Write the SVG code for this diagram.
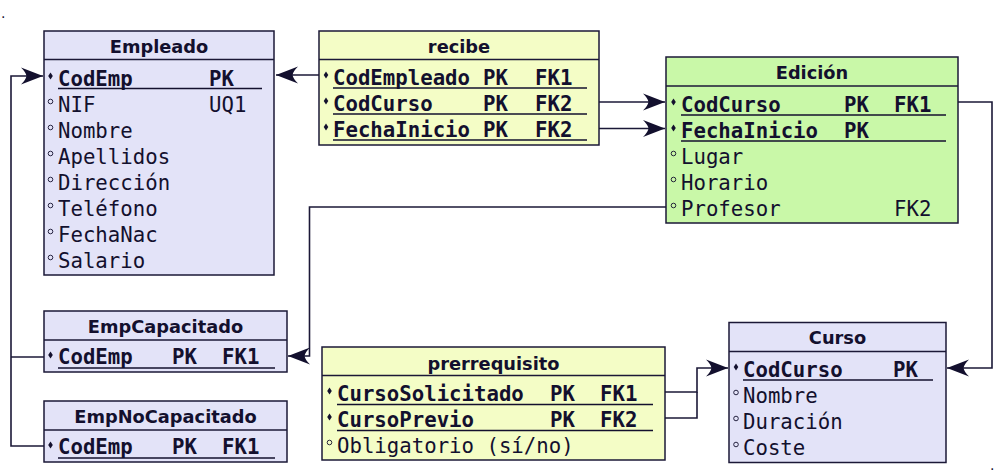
<svg xmlns="http://www.w3.org/2000/svg" width="1000" height="473" viewBox="0 0 1000 473">
<style>
.box{stroke:#1b1837;stroke-width:1.5}
.lav{fill:#e3e3f8}
.yel{fill:#f4fdc6}
.grn{fill:#c9f8a8}
.hdr{stroke:#1b1837;stroke-width:1.5;fill:none}
.title{font-family:"DejaVu Sans",sans-serif;font-weight:bold;font-size:17.8px;fill:#13102e;text-anchor:middle}
.att{font-family:"DejaVu Sans Mono",monospace;font-size:20.7px;fill:#13102e}
.pk{font-weight:bold}
.ul{stroke:#13102e;stroke-width:1.6}
.dia{fill:#13102e}
.circ{fill:none;stroke:#13102e;stroke-width:0.9}
.con{fill:none;stroke:#1b1837;stroke-width:1.6}
.dot{font-family:"DejaVu Sans",sans-serif;font-size:14px;fill:#13102e}
</style>
<defs>
<marker id="arr" markerUnits="userSpaceOnUse" markerWidth="28" markerHeight="22" viewBox="-25 -11 28 22" refX="0" refY="0" orient="auto">
<path d="M0,0 L-22,-8.5 Q-17,-3.5 -16.5,0 Q-17,3.5 -22,8.5 Z" fill="#13102e"/>
</marker>
<path id="d" d="M0,-3.5 L2.3,0 L0,3.5 L-2.3,0 Z"/>
</defs>

<text class="dot" x="1" y="18">.</text>
<text class="dot" x="990" y="470">.</text>

<g id="connectors">
<path class="con" d="M319,75 H276" marker-end="url(#arr)"/>
<path class="con" d="M599,102 H665" marker-end="url(#arr)"/>
<path class="con" d="M599,128.5 H665" marker-end="url(#arr)"/>
<path class="con" d="M666,207 H309.5 V356 H288" marker-end="url(#arr)"/>
<path class="con" d="M958,102 H992 V368 H947" marker-end="url(#arr)"/>
<path class="con" d="M44,446 H11 V76 H43" marker-end="url(#arr)"/>
<path class="con" d="M44,357 H11"/>
<path class="con" d="M665,392 H697 V368 H728" marker-end="url(#arr)"/>
<path class="con" d="M665,418 H697 V392"/>
</g>

<g id="Empleado">
<rect class="box lav" x="44" y="31" width="230" height="244"/>
<line class="hdr" x1="44" y1="59.5" x2="274" y2="59.5"/>
<text class="title" x="159" y="53">Empleado</text>
<use href="#d" class="dia" x="50.5" y="76"/>
<text class="att pk" x="58" y="86">CodEmp</text>
<text class="att pk" x="209" y="86">PK</text>
<line class="ul" x1="58" y1="88.5" x2="262" y2="88.5"/>
<circle class="circ" cx="50.5" cy="101.5" r="2.3"/>
<text class="att" x="58" y="112">NIF</text>
<text class="att" x="209" y="112">UQ1</text>
<circle class="circ" cx="50.5" cy="127.5" r="2.3"/>
<text class="att" x="58" y="138">Nombre</text>
<circle class="circ" cx="50.5" cy="153.5" r="2.3"/>
<text class="att" x="58" y="164">Apellidos</text>
<circle class="circ" cx="50.5" cy="179.5" r="2.3"/>
<text class="att" x="58" y="190">Dirección</text>
<circle class="circ" cx="50.5" cy="205.5" r="2.3"/>
<text class="att" x="58" y="216">Teléfono</text>
<circle class="circ" cx="50.5" cy="231.5" r="2.3"/>
<text class="att" x="58" y="242">FechaNac</text>
<circle class="circ" cx="50.5" cy="257.5" r="2.3"/>
<text class="att" x="58" y="268">Salario</text>
</g>

<g id="recibe">
<rect class="box yel" x="319" y="31" width="280" height="114"/>
<line class="hdr" x1="319" y1="59.5" x2="599" y2="59.5"/>
<text class="title" x="459" y="53">recibe</text>
<use href="#d" class="dia" x="326" y="75"/>
<text class="att pk" x="333" y="85">CodEmpleado</text>
<text class="att pk" x="483" y="85">PK</text>
<text class="att pk" x="535" y="85">FK1</text>
<line class="ul" x1="333" y1="88" x2="587" y2="88"/>
<use href="#d" class="dia" x="326" y="101"/>
<text class="att pk" x="333" y="111">CodCurso</text>
<text class="att pk" x="483" y="111">PK</text>
<text class="att pk" x="535" y="111">FK2</text>
<line class="ul" x1="333" y1="114" x2="587" y2="114"/>
<use href="#d" class="dia" x="326" y="127"/>
<text class="att pk" x="333" y="137">FechaInicio</text>
<text class="att pk" x="483" y="137">PK</text>
<text class="att pk" x="535" y="137">FK2</text>
<line class="ul" x1="333" y1="140" x2="587" y2="140"/>
</g>

<g id="Edicion">
<rect class="box grn" x="666" y="57" width="292" height="166"/>
<line class="hdr" x1="666" y1="86" x2="958" y2="86"/>
<text class="title" x="812" y="79">Edición</text>
<use href="#d" class="dia" x="673.5" y="102"/>
<text class="att pk" x="681" y="112">CodCurso</text>
<text class="att pk" x="844" y="112">PK</text>
<text class="att pk" x="894" y="112">FK1</text>
<line class="ul" x1="681" y1="115" x2="946" y2="115"/>
<use href="#d" class="dia" x="673.5" y="128"/>
<text class="att pk" x="681" y="138">FechaInicio</text>
<text class="att pk" x="844" y="138">PK</text>
<line class="ul" x1="681" y1="141" x2="946" y2="141"/>
<circle class="circ" cx="673.5" cy="153.5" r="2.3"/>
<text class="att" x="681" y="164">Lugar</text>
<circle class="circ" cx="673.5" cy="179.5" r="2.3"/>
<text class="att" x="681" y="190">Horario</text>
<circle class="circ" cx="673.5" cy="205.5" r="2.3"/>
<text class="att" x="681" y="216">Profesor</text>
<text class="att" x="894" y="216">FK2</text>
</g>

<g id="EmpCapacitado">
<rect class="box lav" x="44" y="311" width="243" height="61"/>
<line class="hdr" x1="44" y1="340" x2="287" y2="340"/>
<text class="title" x="165.5" y="333">EmpCapacitado</text>
<use href="#d" class="dia" x="50.5" y="355"/>
<text class="att pk" x="58" y="364">CodEmp</text>
<text class="att pk" x="172" y="364">PK</text>
<text class="att pk" x="222" y="364">FK1</text>
<line class="ul" x1="58" y1="368" x2="275" y2="368"/>
</g>

<g id="EmpNoCapacitado">
<rect class="box lav" x="44" y="401" width="243" height="61"/>
<line class="hdr" x1="44" y1="430" x2="287" y2="430"/>
<text class="title" x="165.5" y="423">EmpNoCapacitado</text>
<use href="#d" class="dia" x="50.5" y="445"/>
<text class="att pk" x="58" y="454">CodEmp</text>
<text class="att pk" x="172" y="454">PK</text>
<text class="att pk" x="222" y="454">FK1</text>
<line class="ul" x1="58" y1="458" x2="275" y2="458"/>
</g>

<g id="prerrequisito">
<rect class="box yel" x="322" y="347" width="343" height="113"/>
<line class="hdr" x1="322" y1="375.5" x2="665" y2="375.5"/>
<text class="title" x="493.5" y="370">prerrequisito</text>
<use href="#d" class="dia" x="329.5" y="391"/>
<text class="att pk" x="337" y="401">CursoSolicitado</text>
<text class="att pk" x="550" y="401">PK</text>
<text class="att pk" x="600" y="401">FK1</text>
<line class="ul" x1="337" y1="404.5" x2="653" y2="404.5"/>
<use href="#d" class="dia" x="329.5" y="417"/>
<text class="att pk" x="337" y="427">CursoPrevio</text>
<text class="att pk" x="550" y="427">PK</text>
<text class="att pk" x="600" y="427">FK2</text>
<line class="ul" x1="337" y1="430.5" x2="653" y2="430.5"/>
<circle class="circ" cx="329.5" cy="442.5" r="2.3"/>
<text class="att" x="337" y="453">Obligatorio (sí/no)</text>
</g>

<g id="Curso">
<rect class="box lav" x="729" y="322.5" width="217" height="140"/>
<line class="hdr" x1="729" y1="351.5" x2="946" y2="351.5"/>
<text class="title" x="837.5" y="344">Curso</text>
<use href="#d" class="dia" x="736" y="367"/>
<text class="att pk" x="743" y="377">CodCurso</text>
<text class="att pk" x="893" y="377">PK</text>
<line class="ul" x1="743" y1="380" x2="933" y2="380"/>
<circle class="circ" cx="736" cy="392.5" r="2.3"/>
<text class="att" x="743" y="403">Nombre</text>
<circle class="circ" cx="736" cy="418.5" r="2.3"/>
<text class="att" x="743" y="429">Duración</text>
<circle class="circ" cx="736" cy="444.5" r="2.3"/>
<text class="att" x="743" y="455">Coste</text>
</g>
</svg>
